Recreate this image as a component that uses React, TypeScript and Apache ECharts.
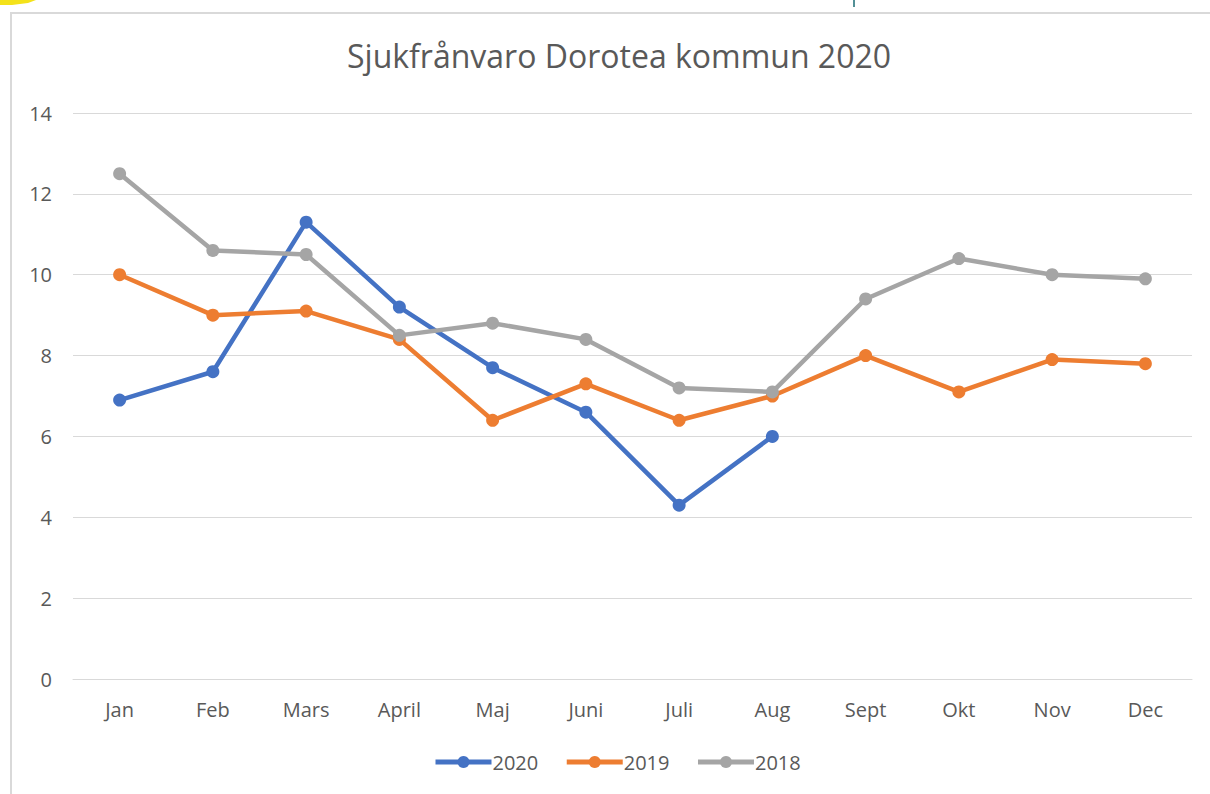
import React, { useEffect, useRef } from "react";
import * as echarts from "echarts";

const months = ["Jan", "Feb", "Mars", "April", "Maj", "Juni", "Juli", "Aug", "Sept", "Okt", "Nov", "Dec"];
const values2020 = [6.9, 7.6, 11.3, 9.2, 7.7, 6.6, 4.3, 6.0];
const values2019 = [10.0, 9.0, 9.1, 8.4, 6.4, 7.3, 6.4, 7.0, 8.0, 7.1, 7.9, 7.8];
const values2018 = [12.5, 10.6, 10.5, 8.5, 8.8, 8.4, 7.2, 7.1, 9.4, 10.4, 10.0, 9.9];
const seriesNames = ["2020", "2019", "2018"];
const colors = ["#4472C4", "#ED7D31", "#A5A5A5"];

const FONT = "Open Sans";

export default function App() {
  const ref = useRef<HTMLDivElement>(null);
  useEffect(() => {
    if (!ref.current) return;
    const chart = echarts.init(ref.current, undefined, { renderer: "svg" });
    const data = [values2020, values2019, values2018];
    chart.setOption({
      animation: false,
      backgroundColor: "#ffffff",
      title: {
        text: "Sjukfrånvaro Dorotea kommun 2020",
        left: 342,
        top: 34,
        textStyle: { fontFamily: FONT, fontSize: 32, fontWeight: "normal", color: "#595959" },
      },
      graphic: [
        {
          type: "rect",
          shape: { x: 11, y: 13, width: 1220, height: 800 },
          style: { fill: "none", stroke: "#d9d9d9", lineWidth: 2 },
          z: -1,
        },
        {
          type: "polygon",
          shape: { points: [[0, 0], [36, 0], [28, 3], [12, 5], [0, 5]] },
          style: { fill: "#f4e21a" },
        },
        {
          type: "line",
          shape: { x1: 854, y1: 0, x2: 854, y2: 7 },
          style: { stroke: "#1a6b73", lineWidth: 1.5 },
        },
      ],
      legend: {
        bottom: 17,
        left: 428,
        itemWidth: 56,
        itemHeight: 15,
        itemGap: 26,
        data: seriesNames,
        lineStyle: { width: 5 },
        textStyle: { fontFamily: FONT, fontSize: 20, color: "#595959", padding: [0, 0, 0, -4] },
      },
      grid: { left: 73, right: 18, top: 113, bottom: 115, containLabel: false },
      xAxis: {
        type: "category",
        data: months,
        boundaryGap: true,
        axisLine: { show: true, lineStyle: { color: "#d9d9d9", width: 1 } },
        axisTick: { show: false },
        axisLabel: { fontFamily: FONT, fontSize: 20, color: "#595959", margin: 20 },
      },
      yAxis: {
        type: "value",
        min: 0,
        max: 14,
        interval: 2,
        axisLine: { show: false },
        axisTick: { show: false },
        splitLine: { lineStyle: { color: "#d9d9d9", width: 1 } },
        axisLabel: { fontFamily: FONT, fontSize: 20, color: "#595959", margin: 21 },
      },
      series: seriesNames.map((name, i) => ({
        name,
        type: "line",
        data: data[i],
        symbol: "circle",
        symbolSize: 13,
        itemStyle: { color: colors[i] },
        lineStyle: { color: colors[i], width: 4.5 },
        z: 2 + i,
      })),
    });
    return () => chart.dispose();
  }, []);
  return <div ref={ref} style={{ width: 1210, height: 794, position: "absolute", left: 0, top: 0 }} />;
}
